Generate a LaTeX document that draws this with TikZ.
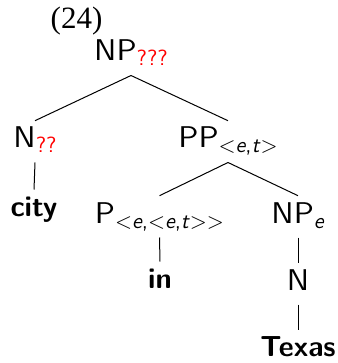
\documentclass[tikz,border=0pt]{standalone}
\usepackage{fontspec}
\newfontfamily\exfont{Liberation Serif}
\newfontfamily\catfont{lmsans10-regular.otf}[FakeStretch=1.05]
\newfontfamily\subfont{lmsans10-regular.otf}[ItalicFont=lmsans10-oblique.otf, SlantedFont=lmsans10-oblique.otf]

% subscripts on the category labels
\newcommand{\tsub}[1]{\raisebox{-2.5pt}{\subfont\fontsize{11}{13}\selectfont #1}}
\newcommand{\qsub}[1]{\tsub{\color{red}#1}}

\tikzset{
	cat/.style={anchor=base, font=\catfont\fontsize{15}{17}\selectfont,
		text height=10.4pt, text depth=4pt, inner xsep=0pt, inner ysep=3pt},
	word/.style={cat, font=\sffamily\bfseries\fontsize{14.5}{17}\selectfont, text height=10pt}
}

\begin{document}
\begin{tikzpicture}[x=0.5pt, y=-0.5pt, line width=0.5pt]
				\useasboundingbox (0, 0) rectangle (337, 363);
				\node[anchor=base, font=\exfont\fontsize{15.5}{18}\selectfont] (ex) at (76.5, 28.5) {(24)};

				\node[cat] (np) at (131, 61) {NP\qsub{???}};
				\node[cat] (nq) at (35, 148) {N\qsub{??}};
				\node[cat] (pp) at (228, 148) {PP\tsub{$<$\textit{e},\textit{t}$>$}};
				\node[cat] (p) at (159.5, 223) {P\tsub{$<$\textit{e},$<$\textit{e},\textit{t}$>$$>$}};
				\node[cat] (npe) at (298, 223) {NP\tsub{\textit{e}}};
				\node[cat] (n) at (298, 290) {N};

				\node[word] (city) at (34, 216) {city};
				\node[word] (in) at (160, 288) {in};
				\node[word] (texas) at (298, 356) {Texas};

				\draw (np.south) to (nq.north);
				\draw (np.south) to (pp.north);
				\draw (nq.south) to (city.north);
				\draw (pp.south) to (p.north);
				\draw (pp.south) to (npe.north);
				\draw (p.south) to (in.north);
				\draw (npe.south) to (n.north);
				\draw (n.south) to (texas.north);

			\end{tikzpicture}
\end{document}
